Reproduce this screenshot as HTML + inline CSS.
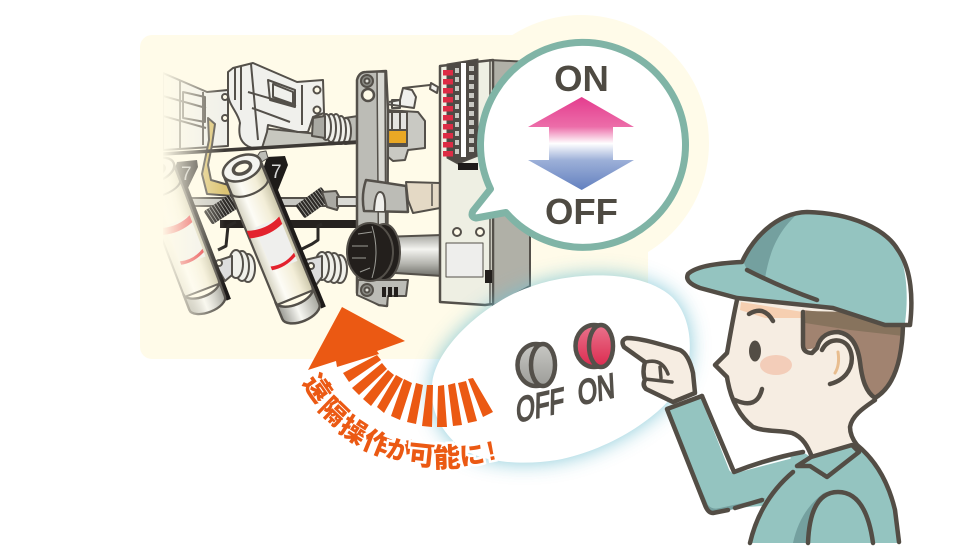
<!DOCTYPE html>
<html><head><meta charset="utf-8"><style>
html,body{margin:0;padding:0;background:#fff;width:960px;height:560px;overflow:hidden}
svg{display:block}
text{font-family:"Liberation Sans","Noto Sans CJK JP",sans-serif}
</style></head><body>
<svg width="960" height="560" viewBox="0 0 960 560" xmlns="http://www.w3.org/2000/svg">
<defs>
<linearGradient id="tube" x1="0" x2="1" y1="0" y2="0"><stop offset="0" stop-color="#d4d1bf"/><stop offset=".3" stop-color="#fdfcf6"/><stop offset=".7" stop-color="#f3eed8"/><stop offset="1" stop-color="#cbc6aa"/></linearGradient>
<linearGradient id="cap" x1="0" x2="1" y1="0" y2="0"><stop offset="0" stop-color="#9a9a93"/><stop offset=".45" stop-color="#f7f7f2"/><stop offset="1" stop-color="#a5a59d"/></linearGradient>
<linearGradient id="cyl" x1="0" x2="0" y1="0" y2="1"><stop offset="0" stop-color="#a5a59f"/><stop offset=".35" stop-color="#f4f4f0"/><stop offset=".7" stop-color="#b5b5af"/><stop offset="1" stop-color="#6f6f69"/></linearGradient>
<linearGradient id="fade" x1="0" x2="1" y1="0" y2="0"><stop offset="0" stop-color="#fffbe9" stop-opacity=".97"/><stop offset=".55" stop-color="#fffbe9" stop-opacity=".45"/><stop offset="1" stop-color="#fffbe9" stop-opacity="0"/></linearGradient>
<linearGradient id="updown" gradientUnits="userSpaceOnUse" x1="0" x2="0" y1="97" y2="190"><stop offset="0" stop-color="#e43c8e"/><stop offset=".32" stop-color="#ec6da9"/><stop offset=".5" stop-color="#ffffff"/><stop offset=".68" stop-color="#9db0d8"/><stop offset="1" stop-color="#6280bf"/></linearGradient>
<linearGradient id="red" x1="0" x2="0" y1="0" y2="1"><stop offset="0" stop-color="#e9738c"/><stop offset="1" stop-color="#dc2a4f"/></linearGradient>
<linearGradient id="gry" x1="0" x2="0" y1="0" y2="1"><stop offset="0" stop-color="#c8c8c4"/><stop offset="1" stop-color="#9c9c98"/></linearGradient>
<filter id="blur" x="-20%" y="-20%" width="140%" height="140%"><feGaussianBlur stdDeviation="10"/></filter>
<clipPath id="machine"><rect x="163" y="40" width="380" height="300"/></clipPath>
<g id="fuse">
<rect x="20" y="8" width="5" height="152" fill="#1e1b19" stroke="none"/>
<rect x="-20" y="0" width="40" height="140" fill="url(#tube)" stroke="#54504a" stroke-width="2.2"/>
<path d="M-20,137 v18 a20,10 0 0 0 40,0 v-18 a20,10 0 0 1 -40,0z" fill="url(#cap)" stroke="#54504a" stroke-width="2.500"/>
<path d="M-19.500,21 a20,9 0 0 0 39,0 V1 h-39z" fill="url(#tube)" stroke="#54504a" stroke-width="2.200"/>
<ellipse cx="0" cy="0" rx="20" ry="12" fill="#f4f4f0" stroke="#54504a" stroke-width="2.500"/>
<ellipse cx="0" cy="0" rx="9" ry="5.500" fill="#fffbe9" stroke="#54504a" stroke-width="3.500"/>
<rect x="-11" y="60" width="27" height="47" fill="#efefed" stroke="none"/>
<path d="M-19.500,60 q19,7 35.500,-1 v8 q-17,7 -35.500,1z" fill="#e3222d" stroke="none"/>
<path d="M-11,102 q14,4 27,-4 v4 q-14,7 -27,4z" fill="#e3222d" stroke="none"/>
</g>
</defs>

<!-- background -->
<rect x="140" y="35" width="508" height="324" rx="12" fill="#fffbe9"/>
<circle cx="581" cy="143" r="128" fill="#fffbe9"/>

<!-- machinery -->
<g clip-path="url(#machine)" stroke="#54504a" stroke-width="2" stroke-linejoin="round">
<!-- back rods -->
<rect x="190" y="198" width="172" height="8" fill="#c8c8c2"/>
<rect x="220" y="220" width="145" height="8" fill="#26221f" stroke="none"/>
<!-- left lattice -->
<path d="M163,73 L207,92 L228,90 L228,146 L163,150Z" fill="#f0f0ea"/>
<path d="M163,96 L206,108 M163,116 L206,128 M180,80 V148 M183,92 L205,97 V122 L183,118Z M203,92 V145" fill="none"/>
<!-- yellow strap -->
<path d="M208,118 L215,124 L212,145 L208,165 L211,180 L232,186 L232,196 L207,194 L202,174 L209,140Z" fill="#dcc474"/>
<!-- grey arm under bracket -->
<path d="M250,127 L357,138 V143 L253,148Z" fill="#c7c7bf"/>
<!-- top spring -->
<path d="M345,118 L358,116 V143 L345,144Z" fill="#bdbdb6"/>
<g fill="#f0f0ea">
<ellipse cx="346" cy="131" rx="5" ry="13"/><ellipse cx="341" cy="130" rx="5" ry="14"/><ellipse cx="336" cy="129" rx="5" ry="15"/><ellipse cx="331" cy="128" rx="5" ry="14"/><ellipse cx="326" cy="127" rx="5" ry="13"/>
</g>
<!-- bracket -->
<path d="M228,72 L233,68 L253,63 L297,82 L323,80 L324,113 L313,117 L308,132 L298,132 L268,125 L267,132 L262,148 L252,148 C240,144 238,135 240,123 C238,112 228,105 228,93Z" fill="#f0f0ec"/>
<path d="M251,64 L258,140 M235,68 V100 M241,66 V110 M248,92 L296,106 M252,108 L290,122 M268,80 L295,90 V107 L270,100Z M273,84 L293,92 V104 L273,97Z M302,85 V125" fill="none"/>
<circle cx="317" cy="90" r="3.500" fill="#fffbe9"/><circle cx="317" cy="110" r="3.500" fill="#fffbe9"/>
<circle cx="225" cy="97" r="3" fill="#fffbe9"/><circle cx="225" cy="118" r="3" fill="#fffbe9"/>
<path d="M313,118 L325,116 V138 L312,136Z" fill="#a9a9a2"/>
<path d="M163,154 L357,142" stroke="#3d3935" stroke-width="3.500" fill="none"/>
<!-- springs -->
<g transform="translate(300,212) rotate(-36)">
<rect x="0" y="-8" width="32" height="16" rx="2" fill="#2d2a27" stroke="none"/>
<path d="M3,-8 V8 M6,-8 V8 M9,-8 V8 M12,-8 V8 M15,-8 V8 M18,-8 V8 M21,-8 V8 M24,-8 V8 M27,-8 V8 M30,-8 V8" stroke="#a8a8a2" stroke-width=".8"/>
</g>
<g transform="translate(208,218) rotate(-33)">
<rect x="0" y="-8" width="32" height="16" rx="2" fill="#2d2a27" stroke="none"/>
<path d="M3,-8 V8 M6,-8 V8 M9,-8 V8 M12,-8 V8 M15,-8 V8 M18,-8 V8 M21,-8 V8 M24,-8 V8 M27,-8 V8 M30,-8 V8" stroke="#a8a8a2" stroke-width=".8"/>
</g>
<path d="M322,192 L336,191 L341,200 L337,210 L327,207Z" fill="#aaa9a3"/>
<rect x="337" y="197" width="22" height="9" fill="#dadad5"/>
<!-- lower brackets/wires -->
<path d="M300,250 L312,244 L318,240 V226 L322,224" fill="none" stroke="#2c2926" stroke-width="3"/>
<path d="M218,250 L226,246 L228,226 L236,222" fill="none" stroke="#2c2926" stroke-width="3"/>
<!-- lower springs -->
<g fill="#f0f0ea">
<ellipse cx="340" cy="269" rx="7" ry="14"/><ellipse cx="334" cy="268" rx="7" ry="15"/><ellipse cx="328" cy="267" rx="7" ry="15"/><ellipse cx="322" cy="266" rx="7" ry="14"/>
<ellipse cx="248" cy="268" rx="7" ry="14"/><ellipse cx="242" cy="266" rx="7" ry="15"/><ellipse cx="236" cy="264" rx="7" ry="14"/>
</g>
<path d="M305,260 L322,256 V277 L316,285 L310,280Z" fill="#ddd"/>
<path d="M214,262 L232,256 V275 L225,281Z" fill="#ddd"/>
<circle cx="311" cy="266" r="3" fill="#fffbe9"/><circle cx="219" cy="263" r="3" fill="#fffbe9"/>
<!-- wiring and orange box -->
<path d="M386,110 L418,112 L425,121 V148 L408,150 L405,160 L393,161 L387,156Z" fill="#c9c9c3"/>
<rect x="387" y="112" width="20" height="34" fill="#e4e4e0"/>
<rect x="387" y="130" width="20" height="14" fill="#e9a825"/>
<path d="M392,112 V130 M400,112 V130" fill="none"/>
<path d="M386,104 L414,108 L416,97 L412,90 L403,88 L400,100 L389,102" fill="#f0f0ec"/>
<path d="M403,88 L430,85 L438,90 M392,100 h8 v8 h-8z" fill="none"/>
<path d="M431,83 L438,87 L437,93 L430,89Z" fill="#f0f0ec"/>
<!-- plate -->
<path d="M357,80 Q359,72 366,72 L386,71 L388,110 L387,306 L379,305 L357,293Z" fill="#bcbcb6" stroke-width="2.500"/>
<path d="M377,72 L385,72 L386,305 L379,305Z" fill="#d8d8d2" stroke-width="1.500"/>
<circle cx="368" cy="95" r="6" fill="#fffbe9" stroke-width="2.500"/>
<circle cx="367" cy="81" r="6" fill="#8a8a84"/><circle cx="367" cy="81" r="2.500" fill="#e2e2dc"/>
<!-- handle + tan -->
<path d="M406,182 L440,183 L440,208 L413,213 L408,200Z" fill="#e4d9c5"/>
<path d="M432,184 V206" fill="none" stroke-width="1.500"/>
<path d="M366,180 Q361,195 364,211 L408,212 L406,186 L380,182Z" fill="#bcbcb6" stroke-width="2.500"/>
<path d="M374,211 Q375,192 380,192 Q386,192 385,211" fill="#f0f0ec"/>
<!-- bottom plate pieces -->
<path d="M358,280 H408 L406,296 H388 L387,306 L379,305 L357,295Z" fill="#bcbcb6"/>
<circle cx="367" cy="290" r="6" fill="#8a8a84"/><circle cx="367" cy="290" r="2.500" fill="#e2e2dc"/>
<rect x="382" y="287" width="4" height="10" fill="#231f1c" stroke="none"/><rect x="388" y="287" width="4" height="10" fill="#231f1c" stroke="none"/><rect x="394" y="287" width="4" height="10" fill="#231f1c" stroke="none"/>
<!-- cylinder -->
<path d="M380,237 L442,235 V276 L380,272Z" fill="url(#cyl)"/>
<!-- black insulator -->
<ellipse cx="384" cy="252" rx="16" ry="28" fill="#231f1c"/>
<ellipse cx="370" cy="252" rx="23" ry="29" fill="#231f1c"/>
<path d="M372,226 Q380,252 372,278 M358,234 L372,232 M352,246 L368,246 M352,258 L366,258 M360,272 L370,268" fill="none" stroke="#9c9c96" stroke-width="1"/>
<!-- terminal side -->
<path d="M490,60 L530,62 V286 L493,306Z" fill="#b0b0a7"/>
<!-- terminal body -->
<path d="M440,66 L493,60 V304 L485,305 L440,302Z" fill="#eeefe3" stroke-width="2.500"/>
<path d="M490,60 V304" fill="none" stroke-width="1.500"/>
<path d="M447,64 L478,59 V156 L458,164 L447,158Z" fill="#4e4a45" stroke-width="1"/>
<rect x="458" y="163" width="20" height="7" fill="#1e1b19" stroke="none"/>
<rect x="461" y="63" width="5" height="94" fill="#fff" stroke="none"/>
<g stroke="none" fill="#dd2c45">
<rect x="443" y="70" width="10" height="5.500"/><rect x="443" y="79" width="10" height="5.500"/><rect x="443" y="88" width="10" height="5.500"/><rect x="443" y="97" width="10" height="5.500"/><rect x="443" y="106" width="10" height="5.500"/><rect x="443" y="115" width="10" height="5.500"/><rect x="443" y="124" width="10" height="5.500"/><rect x="443" y="133" width="10" height="5.500"/><rect x="443" y="142" width="10" height="5.500"/><rect x="443" y="151" width="10" height="5.500"/>
</g>
<g stroke="none" fill="#c8c8c2">
<rect x="455" y="68" width="4" height="5"/><rect x="455" y="77" width="4" height="5"/><rect x="455" y="86" width="4" height="5"/><rect x="455" y="95" width="4" height="5"/><rect x="455" y="104" width="4" height="5"/><rect x="455" y="113" width="4" height="5"/><rect x="455" y="122" width="4" height="5"/><rect x="455" y="131" width="4" height="5"/><rect x="455" y="140" width="4" height="5"/><rect x="455" y="149" width="4" height="5"/>
<rect x="469" y="66" width="5" height="5"/><rect x="469" y="75" width="5" height="5"/><rect x="469" y="84" width="5" height="5"/><rect x="469" y="93" width="5" height="5"/><rect x="469" y="102" width="5" height="5"/><rect x="469" y="111" width="5" height="5"/><rect x="469" y="120" width="5" height="5"/><rect x="469" y="129" width="5" height="5"/><rect x="469" y="138" width="5" height="5"/><rect x="469" y="147" width="5" height="5"/>
</g>
<circle cx="457" cy="232" r="4" fill="#fffbe9"/><circle cx="480" cy="232" r="4" fill="#fffbe9"/>
<rect x="446" y="243" width="37" height="34" fill="#eeeeec" stroke-width="1"/>
<rect x="485" y="270" width="7" height="13" fill="#231f1c" stroke="none"/>
<!-- fuses -->
<path d="M177,162 L197,160 L198,167 L187,190 L178,195 L170,185Z" fill="#1e1b19" stroke="none"/>
<use href="#fuse" transform="translate(156,170) rotate(-21) scale(.95 .92)"/>
<text x="181" y="180" font-size="19" fill="#b8b8b8" stroke="none">7</text>
<path d="M267,157 L285,156 L288,165 L278,190 L268,195 L258,185Z" fill="#1e1b19" stroke="none"/>
<path d="M260,152 L266,151 L268,158 L260,163 L256,158Z" fill="#bdbdb6" stroke-width="1"/>
<use href="#fuse" transform="translate(242,168) rotate(-22.300)"/>
<text x="271" y="178" font-size="19" fill="#d8d8d8" stroke="none">7</text>
<!-- left fade -->
<rect x="163" y="40" width="62" height="300" fill="url(#fade)" stroke="none"/>
</g>

<!-- bubble with glow -->
<path d="M432,385 C435,345 490,300 530,287 C570,272 640,268 672,297 C692,317 695,355 682,382 C665,415 610,450 557,460 C520,466 480,462 460,447 C440,430 430,410 432,385Z" fill="#71bfd0" filter="url(#blur)" opacity=".85"/>
<path d="M432,385 C435,345 490,300 530,287 C570,272 640,268 672,297 C692,317 695,355 682,382 C665,415 610,450 557,460 C520,466 480,462 460,447 C440,430 430,410 432,385Z" fill="#fff"/>

<!-- orange arrow -->
<g fill="#eb5913">
<path d="M342,307 L405,341 L377,351 L379,354 L337,367 L336,361 L308,370Z"/>
<path d="M377,355 L381,360 L349,382 L343,373Z M382,363 L387,369 L359,395 L352,388Z M388,370 L394,375 L371,406 L363,399Z M396,375 L403,379 L384,413 L377,407Z M404,379 L412,383 L400,420 L391,416Z M416,383 L423,385 L416,424 L407,422Z M427,385 L433,385 L432,427 L422,426Z M438,386 L444,385 L447,427 L437,427Z M448,385 L455,383 L462,425 L453,426Z M458,383 L466,381 L477,421 L468,423Z M468,379 L473,378 L493,412 L483,417Z"/>
</g>
<g font-size="27" font-weight="900" fill="#eb5913" stroke="#fff" stroke-width="5" paint-order="stroke" text-anchor="middle">
<text transform="translate(318,388) rotate(55) translate(0,10)">遠</text>
<text transform="translate(334,411) rotate(44) translate(0,10)">隔</text>
<text transform="translate(354,430) rotate(33) translate(0,10)">操</text>
<text transform="translate(377,443) rotate(22) translate(0,10)">作</text>
<text transform="translate(399,450) rotate(13) translate(0,9)" font-size="25">が</text>
<text transform="translate(422,455) rotate(6) translate(0,10)">可</text>
<text transform="translate(447,457) rotate(-2) translate(0,10)">能</text>
<text transform="translate(472,455) rotate(-9) translate(0,9)" font-size="25">に</text>
<text transform="translate(491,450) rotate(-12) translate(0,10)">!</text>
</g>

<!-- buttons -->
<g stroke="#54504a" stroke-width="4.500">
<ellipse cx="536" cy="365" rx="18.500" ry="21" fill="url(#gry)"/>
<ellipse cx="543" cy="365" rx="12" ry="21" fill="url(#gry)"/>
<ellipse cx="594" cy="346" rx="18.500" ry="21" fill="url(#red)"/>
<ellipse cx="601" cy="346" rx="12" ry="21" fill="url(#red)"/>
</g>
<g font-size="34" fill="#54504a" stroke="#54504a" stroke-width="1.800" text-anchor="middle">
<text transform="translate(540,417) rotate(-13) skewX(-14) scale(.72 1)">OFF</text>
<text transform="translate(597,401) rotate(-13) skewX(-10) scale(.74 1)">ON</text>
</g>

<!-- speech bubble -->
<path d="M490.500,189 A102.500,102.500 0 1 1 506,212.500 L476,218 Q470,217 473,211Z" fill="#fff" stroke="#80b4a6" stroke-width="7" stroke-linejoin="round"/>
<text x="581.500" y="91" font-size="36.500" font-weight="700" fill="#4e4a42" text-anchor="middle">ON</text>
<text x="581.500" y="224" font-size="36.500" font-weight="700" fill="#4e4a42" text-anchor="middle">OFF</text>
<path d="M581.700,97 L634,127 H613 V160 H634 L581.700,190 L528,160 H549 V127 H528Z" fill="url(#updown)"/>

<!-- man -->
<g stroke="#534d45" stroke-width="4.500" stroke-linejoin="round" stroke-linecap="round">
<!-- arm -->
<path d="M667,409 L702,396 L734,472 L803,452 L830,470 L775,505 L735,508 L713,513 Q708,513 705,505Z" fill="#94c4c0" stroke="none"/>
<path d="M670,416 L708,505 Q712,510 720,508 L765,498 L762,503 L730,510 L713,513 Q708,513 705,505 L667,409Z" fill="#74a09f" stroke="none"/>
<path d="M704,404 L730,470 L733,473 L790,458" fill="none" stroke="#fff" stroke-width="1.500"/>
<path d="M702,396 L734,472 Q770,458 803,452" fill="none"/>
<path d="M702,396 L667,409 L705,505 Q708,513 713,513 L728,510 M735,508 L762,500" fill="none"/>
<!-- body -->
<path d="M750,543 Q760,500 793,472 L827,477 L857,445 Q885,468 895,510 L899,543Z" fill="#94c4c0" stroke="none"/>
<path d="M793,543 Q800,510 825,492 Q810,510 808,543Z" fill="#74a09f" stroke="none"/>
<path d="M750,543 Q760,500 793,472 M857,445 Q885,468 895,510 L899,542 M808,543 Q810,492 838,492 Q866,492 873,543" fill="none"/>
<!-- neck+face -->
<path d="M737,298 L727,353 L715,365 L727,377 C730,397 738,415 753,427 C765,432 780,430 792,433 C803,437 808,447 812,457 L852,445 L850,427 C852,415 865,407 875,400 L905,320 L800,300Z" fill="#f6ede2" stroke="none"/>
<path d="M741,302 L803,312 V318 L765,318 L740,310Z" fill="#f6cfb1" stroke="none"/>
<ellipse cx="776" cy="365" rx="16" ry="10" fill="#f3cdb9" stroke="none"/>
<!-- hair -->
<path d="M803,310 V350 L817,348 C820,335 830,332 838,332 C852,334 858,347 860,362 C862,380 866,392 875,398 C892,388 902,365 903,325 L850,315Z" fill="#a18370" stroke="none"/>
<path d="M806,311 L805,323 L850,330 L903,336 V325 L850,312Z" fill="#87735d" stroke="none"/>
<path d="M737,300 C733,318 730,336 727,353 L715,365 L727,377 C730,397 738,415 753,427 C765,432 780,430 792,433 C803,437 808,447 812,457" fill="none"/>
<path d="M875,400 C865,407 852,415 850,427 Q850,436 857,445" fill="none"/>
<path d="M803,312 V345 Q803,353 812,353 L817,348 C820,335 830,332 838,332 C852,334 858,347 860,362 C862,380 866,392 875,398 C892,388 902,365 903,325" fill="none"/>
<path d="M822,350 C828,338 842,338 848,346 C856,358 852,378 830,384" fill="#f6ede2"/>
<path d="M838,352 Q840,365 835,373" fill="none" stroke="#e8bd8f" stroke-width="3"/>
<ellipse cx="755" cy="351" rx="6" ry="10.500" fill="#534d45" stroke="none"/>
<path d="M749,314 Q764,305 773,321" fill="none"/>
<path d="M735,400 Q757,410 762,389" fill="none"/>
<!-- collar -->
<path d="M797,466 L811,457 L852,445 L859,452 L827,477 L810,466Z" fill="#94c4c0"/>
<!-- hat -->
<path d="M742,262 C752,240 775,213 807,212 C850,213 885,228 898,250 C912,270 913,300 910,325 L885,325 L833,308 L737,298 L700,288 Q684,282 688,274 Q698,264 742,262Z" fill="#94c4c0" stroke="none"/>
<path d="M744,263 C755,238 775,216 797,214 C778,232 770,250 765,278 L747,270Z" fill="#74a09f" stroke="none"/>
<path d="M897,248 C908,270 908,300 905,323 L910,324 C913,295 910,268 897,248Z" fill="#fff" stroke="none"/>
<path d="M742,262 C752,240 775,213 807,212 C850,213 885,228 898,250 C912,270 913,300 910,325 L885,325 L833,308 L737,298 L700,288 Q684,282 688,274 Q698,264 742,262Z" fill="none"/>
<path d="M747,270 Q780,287 817,300" fill="none"/>
<!-- hand -->
<path d="M695,393 L693,373 C690,360 686,353 680,350 C660,344 640,338 627,338 Q620,340 624,347 L645,362 Q642,372 645,380 Q642,385 646,389 L673,402Z" fill="#f6ede2"/>
<path d="M646,362 Q662,358 668,374 M645,379 L672,382 M660,367 L661,378" fill="none" stroke-width="3.500"/>
</g>
</svg>
</body></html>
